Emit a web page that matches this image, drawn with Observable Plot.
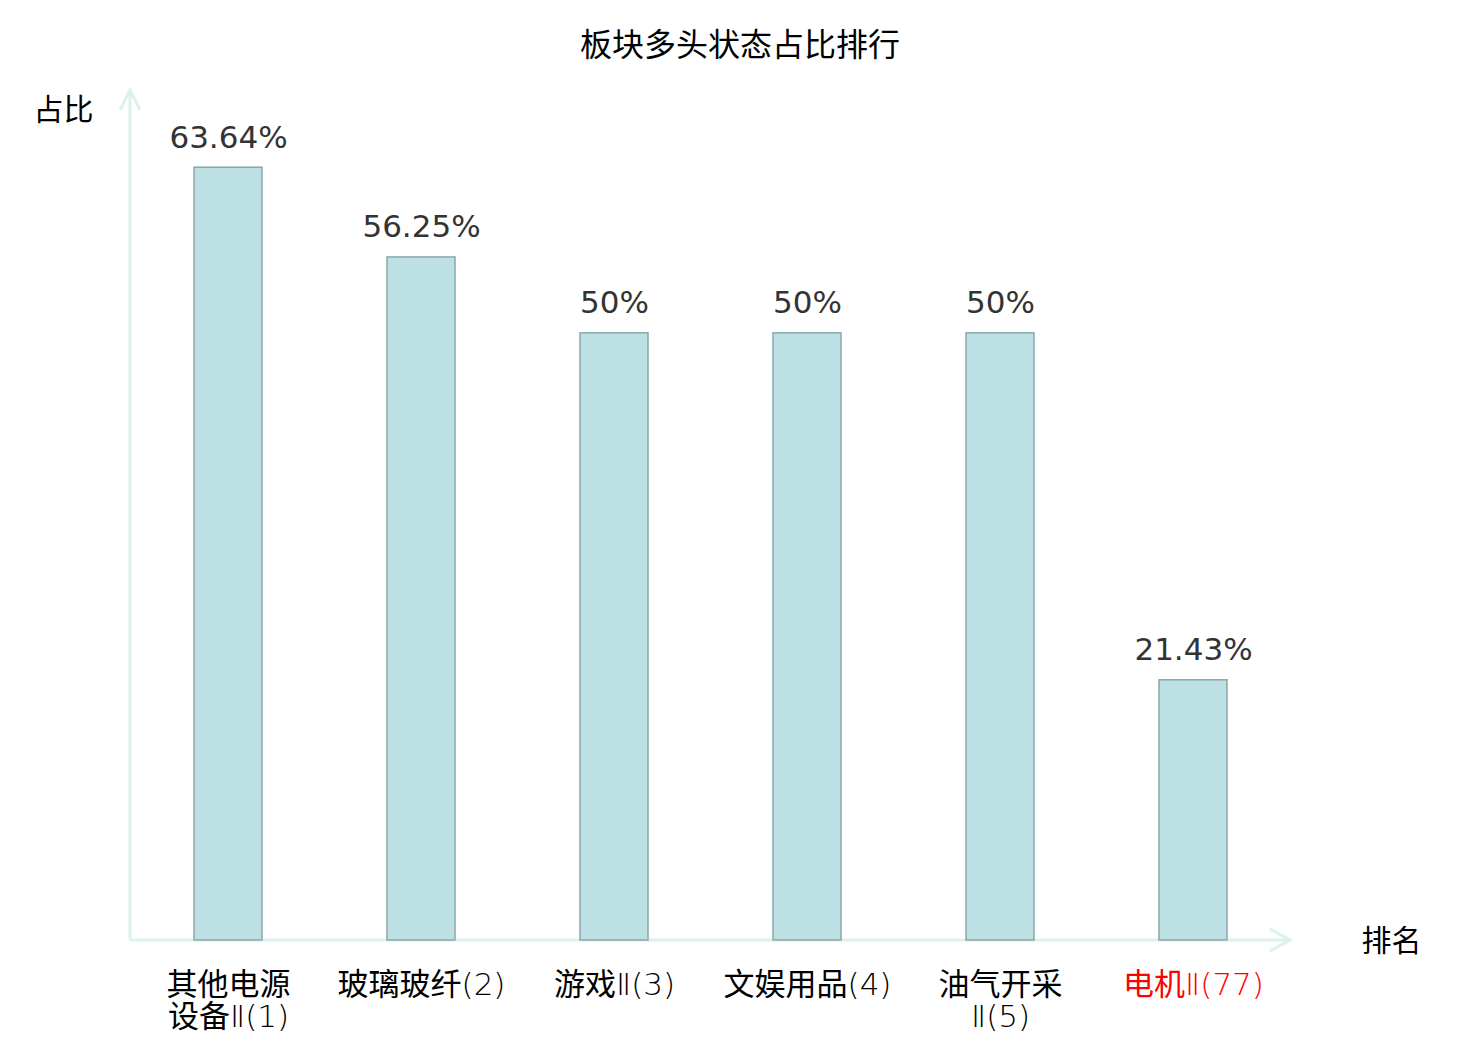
<!DOCTYPE html>
<html><head><meta charset="utf-8">
<script src="https://cdn.jsdelivr.net/npm/d3@7"></script>
<script src="https://cdn.jsdelivr.net/npm/@observablehq/plot@0.6"></script>
<style>
body{margin:0;background:#fff;}
#title{height:70px;line-height:84px;text-align:center;font-family:"Noto Sans CJK SC",sans-serif;font-size:32px;color:#000;overflow:visible;}
</style>
</head><body>
<div id="title">板块多头状态占比排行</div>
<div id="chart"></div>
<script>
const categories = ["其他电源\n设备Ⅱ(1)", "玻璃玻纤(2)", "游戏Ⅱ(3)", "文娱用品(4)", "油气开采\nⅡ(5)", "电机Ⅱ(77)"];
const values = [63.64, 56.25, 50, 50, 50, 21.43];
const valueLabels = ["63.64%", "56.25%", "50%", "50%", "50%", "21.43%"];
const labelColors = ["#000000", "#000000", "#000000", "#000000", "#000000", "#ff0000"];
const yLabel = "占比";
const xLabel = "排名";

const data = categories.map((c, i) => ({name: c, value: values[i], label: valueLabels[i], color: labelColors[i]}));

const axisColor = "#dcf2ee";
function axesArrows(index, scales, channels, dimensions) {
  const {width, height, marginLeft, marginTop, marginRight, marginBottom} = dimensions;
  const x0 = marginLeft, y0 = scales.y(0);
  const xEnd = width - marginRight, yEnd = marginTop;
  const g = d3.create("svg:g").attr("fill", "none").attr("stroke", axisColor).attr("stroke-width", 3);
  g.append("line").attr("x1", x0).attr("y1", y0).attr("x2", x0).attr("y2", yEnd);
  g.append("line").attr("x1", x0).attr("y1", y0).attr("x2", xEnd).attr("y2", y0);
  g.append("path").attr("d", `M${x0 - 10},${yEnd + 20}L${x0},${yEnd}L${x0 + 10},${yEnd + 20}`);
  g.append("path").attr("d", `M${xEnd - 20},${y0 - 11}L${xEnd},${y0}L${xEnd - 20},${y0 + 11}`);
  return g.node();
}

const tickFont = "'DejaVu Sans', 'Noto Sans CJK SC', sans-serif";

const chart = Plot.plot({
  width: 1480,
  height: 970,
  marginLeft: 130,
  marginRight: 190,
  marginTop: 20,
  marginBottom: 100,
  x: {domain: categories, paddingInner: 0.65, paddingOuter: 0.325, axis: null},
  y: {domain: [0, 70], axis: null},
  color: {type: "identity"},
  marks: [
    axesArrows,
    Plot.barY(data, {x: "name", y: "value", fill: "#bce0e3", stroke: "#8aa7a8", strokeWidth: 1.5}),
    Plot.text(data, {x: "name", y: "value", text: "label", dy: -30, fontSize: 31, fill: "#333333", fontFamily: "DejaVu Sans"}),
    Plot.text(data, {x: "name", frameAnchor: "bottom", text: "name", fill: "color", lineAnchor: "top", dy: 31, fontSize: 31, fontWeight: 200, lineHeight: 1.05, fontFamily: tickFont, className: "ticklabels"}),
    Plot.text([yLabel], {frameAnchor: "top-left", text: d => d, textAnchor: "middle", lineAnchor: "middle", dx: -67, dy: 20, fontSize: 30, fill: "#000", fontFamily: "Noto Sans CJK SC"}),
    Plot.text([xLabel], {frameAnchor: "bottom-right", text: d => d, textAnchor: "middle", lineAnchor: "middle", dx: 101, dy: 1, fontSize: 30, fill: "#000", fontFamily: "Noto Sans CJK SC"})
  ]
});

// CJK runs in regular weight, Latin runs in thin DejaVu
function splitRuns(node) {
  const s = node.textContent;
  node.textContent = "";
  const runs = s.match(/[\u4e00-\u9fff]+|[^\u4e00-\u9fff]+/g) || [];
  for (const r of runs) {
    const t = document.createElementNS("http://www.w3.org/2000/svg", "tspan");
    t.textContent = r;
    if (/[\u4e00-\u9fff]/.test(r)) {
      t.setAttribute("font-family", "Noto Sans CJK SC");
      t.setAttribute("font-weight", "400");
    }
    node.appendChild(t);
  }
}
chart.querySelectorAll(".ticklabels text").forEach(text => {
  const lines = text.querySelectorAll("tspan");
  if (lines.length) lines.forEach(splitRuns);
  else splitRuns(text);
});
document.getElementById("chart").appendChild(chart);
</script>
</body></html>
